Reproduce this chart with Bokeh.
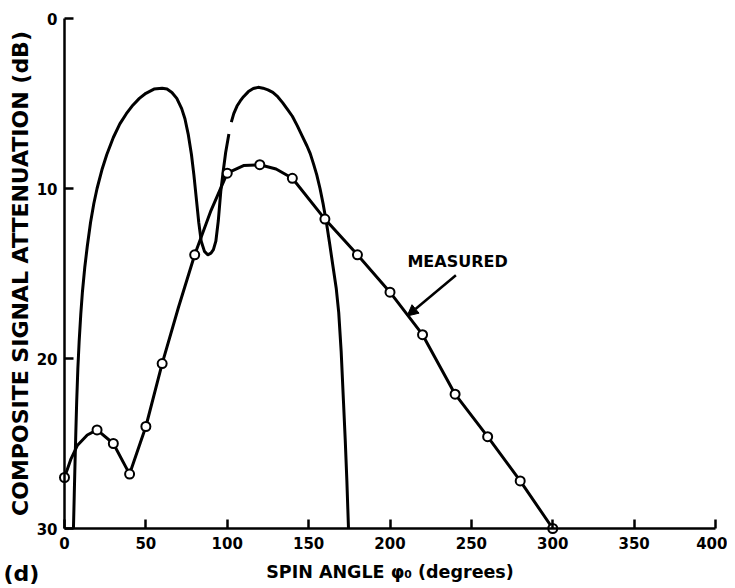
from bokeh.plotting import figure
from bokeh.models import Range1d, FixedTicker, Label, Arrow, NormalHead
from bokeh.embed import file_html
from bokeh.resources import INLINE

# ---- data ----
x_ticks = [0, 50, 100, 150, 200, 250, 300, 350, 400]
y_ticks = [0, 10, 20, 30]

# measured points (open circles)
meas_x = [0, 20, 30, 40, 50, 60, 80, 100, 120, 140, 160, 180, 200, 220, 240, 260, 280, 300]
meas_y = [27.0, 24.2, 25.0, 26.8, 24.0, 20.3, 13.9, 9.1, 8.6, 9.4, 11.8, 13.9, 16.1, 18.6, 22.1, 24.6, 27.2, 30.0]

# measured curve (drawn through the points)
meas_line_x = [0, 4, 8, 14, 20, 30, 40, 50, 60, 70, 80, 90, 100, 110, 120, 130, 140, 160, 180, 200, 220, 240, 260, 280, 300]
meas_line_y = [27.0, 25.9, 25.1, 24.5, 24.2, 25.0, 26.8, 24.0, 20.3, 17.0, 13.9, 11.3, 9.1, 8.65, 8.6, 8.85, 9.4, 11.8, 13.9, 16.1, 18.6, 22.1, 24.6, 27.2, 30.0]

# computed curve, first piece (left lobe and dip)
calc1_x = [5.5, 6.0, 6.5, 7.0, 7.5, 8.2, 9.0, 10.0, 11.0, 12.5, 14.0, 16.0, 18.0, 20.0, 23.0, 26.0,
           30.0, 34.0, 38.0, 42.0, 46.0, 50.0, 55.0, 60.0, 63.0, 66.0, 69.0, 72.0, 74.0, 76.0, 78.0,
           79.5, 81.0, 82.5, 84.0, 86.0, 88.0, 90.0, 91.5, 93.0, 94.5, 96.0, 97.5, 99.0, 101.0]
calc1_y = [30.0, 28.0, 26.0, 24.2, 22.5, 20.6, 19.0, 17.4, 16.1, 14.6, 13.4, 12.0, 10.9, 10.0, 8.9, 8.0,
           7.0, 6.2, 5.6, 5.1, 4.7, 4.4, 4.15, 4.1, 4.15, 4.35, 4.7, 5.3, 5.9, 6.8, 8.0,
           9.2, 10.6, 12.0, 13.1, 13.7, 13.9, 13.8, 13.6, 13.1, 11.9, 10.2, 9.0, 7.9, 6.8]
# computed curve, second piece (right lobe)
calc2_x = [102.5, 104, 106, 108, 110, 113, 116, 119, 122, 125, 128, 131, 134, 137, 140, 143, 146, 149,
           151, 153, 155, 157, 159, 161, 163, 165, 167, 168.5, 170, 171.4, 172.5, 173.5, 174.5]
calc2_y = [6.1, 5.6, 5.15, 4.85, 4.6, 4.3, 4.12, 4.05, 4.1, 4.2, 4.35, 4.6, 4.95, 5.35, 5.75, 6.3, 6.9, 7.5,
           7.95, 8.55, 9.2, 10.0, 10.95, 12.05, 13.3, 14.6, 15.9, 17.3, 19.6, 22.5, 24.8, 27.2, 30.0]

FONT = "DejaVu Sans"

# canvas geometry (pixels): data box from x=64..715, y=18..528 on a 727x586 canvas
W, H = 727, 586
X0PX, X1PX, Y0PX, Y1PX = 64, 715, 18, 528
XMIN, XMAX = x_ticks[0], x_ticks[-1]
YMIN, YMAX = y_ticks[0], y_ticks[-1]
sx = (X1PX - X0PX) / (XMAX - XMIN)
sy = (Y1PX - Y0PX) / (YMAX - YMIN)
x_range = Range1d(XMIN - X0PX / sx, XMAX + (W - X1PX) / sx)
y_range = Range1d(YMAX + (H - Y1PX) / sy, YMIN - Y0PX / sy)

p = figure(frame_width=W, frame_height=H, x_range=x_range, y_range=y_range,
           output_backend="svg", toolbar_location=None, tools="", min_border=0)

p.outline_line_color = None
p.grid.visible = False
p.background_fill_color = "white"
p.border_fill_color = "white"

xa, ya = p.xaxis[0], p.yaxis[0]
xa.fixed_location = YMAX
xa.bounds = (XMIN, XMAX)
ya.fixed_location = XMIN
ya.bounds = (YMIN, YMAX)

for ax in (xa, ya):
    ax.axis_line_width = 2.5
    ax.axis_line_color = "black"
    ax.major_tick_line_width = 2.5
    ax.major_tick_in = 9
    ax.major_tick_out = 0
    ax.minor_tick_line_color = None
    ax.major_label_text_font = FONT
    ax.major_label_text_font_style = "bold"
    ax.major_label_text_font_size = "15px"
    ax.major_label_text_color = "black"
    ax.axis_label_text_font = FONT
    ax.axis_label_text_font_style = "bold"
    ax.axis_label_text_color = "black"

xa.ticker = FixedTicker(ticks=x_ticks)
ya.ticker = FixedTicker(ticks=y_ticks)
xa.major_label_standoff = 8
ya.major_label_standoff = 7
xa.axis_label = "SPIN ANGLE \u03c6\u2080 (degrees)"
xa.axis_label_text_font_size = "17.5px"
xa.axis_label_standoff = 10
ya.axis_label = "COMPOSITE SIGNAL ATTENUATION (dB)"
ya.axis_label_text_font_size = "22px"
ya.axis_label_standoff = 1

# computed curve
p.line(calc1_x, calc1_y, line_color="black", line_width=3, line_join="round")
p.line(calc2_x, calc2_y, line_color="black", line_width=3, line_join="round")

# measured curve
p.line(meas_line_x, meas_line_y, line_color="black", line_width=3, line_join="round")
p.scatter(meas_x, meas_y, marker="circle", size=9, fill_color="white", line_color="black", line_width=2)

# annotation
p.add_layout(Label(x=210.7, y=14.3, text="MEASURED", text_font=FONT, text_font_style="bold",
                   text_font_size="16px", text_baseline="middle", text_align="left", text_color="black"))
p.add_layout(Arrow(end=NormalHead(size=11, fill_color="black", line_color="black"),
                   x_start=240.5, y_start=15.1, x_end=210.5, y_end=17.5,
                   line_width=2.5, line_color="black"))

# panel letter, placed relative to the axes origin corner
p.add_layout(Label(x=XMIN, y=YMAX, x_offset=-61, y_offset=-45, text="(d)", text_font=FONT,
                   text_font_style="bold", text_font_size="22px", text_baseline="middle",
                   text_align="left", text_color="black"))

open("out.html", "w").write(file_html(p, INLINE))
